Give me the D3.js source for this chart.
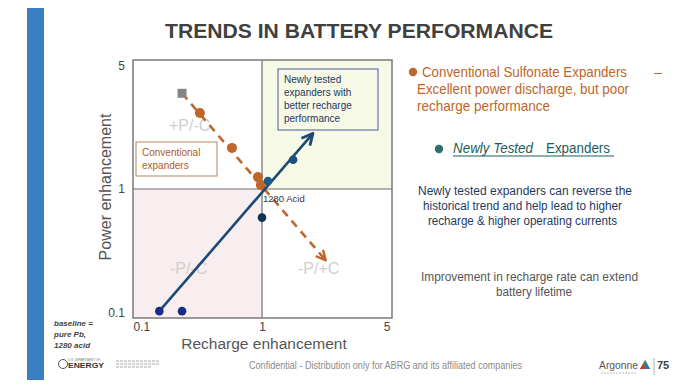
<!DOCTYPE html>
<html>
<head>
<meta charset="utf-8">
<script src="https://cdn.jsdelivr.net/npm/d3@7.9.0/dist/d3.min.js"></script>
<style>
  html, body { margin: 0; padding: 0; background: #fff; }
  svg { display: block; font-family: "Liberation Sans", Arial, sans-serif; }
</style>
</head>
<body>
<svg id="slide" width="696" height="385"></svg>
<script>
// axis ticks
const xTicks = [0.1, 1, 5];
const yTicks = [0.1, 1, 5];

// conventional sulfonate expanders (recharge, power)
const conventional = [
  { x: 0.33, y: 2.58 },
  { x: 0.585, y: 1.67 },
  { x: 0.93, y: 1.16 },
  { x: 0.98, y: 1.05 },
];
// starting reference point (grey square)
const startPoint = [{ x: 0.24, y: 3.3 }];
// newly tested expanders
const newlyTested = [
  { x: 0.16, y: 0.113, c: '#172b8a' },
  { x: 0.24, y: 0.113, c: '#172b8a' },
  { x: 1.0, y: 0.6, c: '#12304f' },
  { x: 1.077, y: 1.105, c: '#1d5a86' },
  { x: 1.47, y: 1.44, c: '#1d4f7a' },
];
// trend arrows
const conventionalTrend = [{ x: 0.24, y: 3.3 }, { x: 2.2, y: 0.28 }];
const newTrend = [{ x: 0.16, y: 0.113 }, { x: 1.88, y: 2.0 }];

const svg = d3.select('#slide');
const orange = '#c0662a';
const navy = '#1b4a74';

// piecewise log scales: each half of the axis is its own range
const x = d3.scaleLog().domain([0.1, 1, 5]).range([133, 262, 392]);
const y = d3.scaleLog().domain([0.1, 1, 5]).range([318, 189, 60]);

// blue bar on the left
svg.append('rect').attr('x', 27).attr('y', 8).attr('width', 17).attr('height', 372).attr('fill', '#3a7fc4');

svg.append('text')
  .attr('x', 165).attr('y', 38)
  .attr('textLength', 388).attr('lengthAdjust', 'spacingAndGlyphs')
  .attr('font-size', 21).attr('font-weight', 'bold').attr('fill', '#404040')
  .text('TRENDS IN BATTERY PERFORMANCE');

// quadrants
const plot = svg.append('g');
plot.append('rect')
  .attr('x', x(1)).attr('y', y(5))
  .attr('width', x(5) - x(1)).attr('height', y(1) - y(5))
  .attr('fill', '#f5f9e5');
plot.append('rect')
  .attr('x', x(0.1)).attr('y', y(1))
  .attr('width', x(1) - x(0.1)).attr('height', y(0.1) - y(1))
  .attr('fill', '#f9eeef');

// quadrant names
const quadLabels = [
  { t: '+P/-C', x: 169, y: 131 },
  { t: '-P/-C', x: 170, y: 274 },
  { t: '-P/+C', x: 298, y: 274 },
];
plot.selectAll('text.quad').data(quadLabels).join('text')
  .attr('class', 'quad')
  .attr('x', (d) => d.x).attr('y', (d) => d.y)
  .attr('font-size', 16).attr('fill', '#cfcfcf')
  .text((d) => d.t);

// divider lines
plot.append('line').attr('x1', x(1)).attr('x2', x(1)).attr('y1', y(5)).attr('y2', y(0.1))
  .attr('stroke', '#6e6e6e').attr('stroke-width', 1.2);
plot.append('line').attr('x1', x(0.1)).attr('x2', x(5)).attr('y1', y(1)).attr('y2', y(1))
  .attr('stroke', '#6e6e6e').attr('stroke-width', 1.2);
plot.append('rect')
  .attr('x', x(0.1)).attr('y', y(5))
  .attr('width', x(5) - x(0.1)).attr('height', y(0.1) - y(5))
  .attr('fill', 'none').attr('stroke', '#7a7a7a').attr('stroke-width', 1.5);

// axes (labels only)
const xAxis = svg.append('g').attr('transform', `translate(0,${y(0.1) + 1})`)
  .call(d3.axisBottom(x).tickValues(xTicks).tickSize(0).tickFormat(d3.format('')));
xAxis.select('.domain').remove();
xAxis.selectAll('text')
  .attr('font-size', 12).attr('fill', '#444').attr('font-family', null)
  .attr('text-anchor', (d, i) => (i === 0 ? 'start' : i === xTicks.length - 1 ? 'end' : 'middle'))
  .attr('dx', (d, i) => (i === xTicks.length - 1 ? -2 : 0));

const yAxis = svg.append('g').attr('transform', `translate(${x(0.1) - 5},0)`)
  .call(d3.axisLeft(y).tickValues(yTicks).tickSize(0).tickFormat(d3.format('')));
yAxis.select('.domain').remove();
yAxis.selectAll('text')
  .attr('font-size', 12).attr('fill', '#444').attr('font-family', null)
  .attr('dy', (d, i) => (i === 0 ? '-0.1em' : i === yTicks.length - 1 ? '0.8em' : '0.32em'));

svg.append('text')
  .attr('x', 264).attr('y', 349).attr('text-anchor', 'middle')
  .attr('font-size', 15.5).attr('fill', '#555')
  .text('Recharge enhancement');
svg.append('text')
  .attr('transform', 'translate(111,187) rotate(-90)').attr('text-anchor', 'middle')
  .attr('font-size', 16).attr('fill', '#555')
  .text('Power enhancement');

// annotation boxes
const convBox = svg.append('g');
convBox.append('rect').attr('x', 136).attr('y', 142).attr('width', 81).attr('height', 34)
  .attr('fill', '#fff').attr('stroke', '#b9845c').attr('stroke-width', 1);
['Conventional', 'expanders'].forEach((t, i) => {
  convBox.append('text').attr('x', 142).attr('y', 156 + i * 13)
    .attr('font-size', 10).attr('fill', '#b05a1e').text(t);
});

const newBox = svg.append('g');
newBox.append('rect').attr('x', 278).attr('y', 69).attr('width', 100).attr('height', 61)
  .attr('fill', 'none').attr('stroke', '#4c5a9c').attr('stroke-width', 1);
['Newly tested', 'expanders with', 'better recharge', 'performance'].forEach((t, i) => {
  newBox.append('text').attr('x', 284).attr('y', 83 + i * 13)
    .attr('font-size', 10).attr('fill', '#1f3864').text(t);
});

// arrow markers
const defs = svg.append('defs');
[['arrowOrange', orange, 12], ['arrowNavy', navy, 14]].forEach(([id, col, size]) => {
  defs.append('marker')
    .attr('id', id).attr('viewBox', '0 0 10 10')
    .attr('refX', 9).attr('refY', 5)
    .attr('markerWidth', size).attr('markerHeight', size)
    .attr('markerUnits', 'userSpaceOnUse').attr('orient', 'auto')
    .append('path').attr('d', 'M1,1 L9,5 L1,9')
    .attr('fill', 'none').attr('stroke', col).attr('stroke-width', 2)
    .attr('stroke-dasharray', 'none');
});

const line = d3.line().x((d) => x(d.x)).y((d) => y(d.y));

// conventional trend
svg.append('path').datum(conventionalTrend)
  .attr('d', line).attr('fill', 'none')
  .attr('stroke', orange).attr('stroke-width', 2.6).attr('stroke-dasharray', '8,6')
  .attr('marker-end', 'url(#arrowOrange)');

svg.selectAll('rect.start').data(startPoint).join('rect')
  .attr('class', 'start')
  .attr('x', (d) => x(d.x) - 4.5).attr('y', (d) => y(d.y) - 4.5)
  .attr('width', 9).attr('height', 9).attr('fill', '#858585');

svg.selectAll('circle.conv').data(conventional).join('circle')
  .attr('class', 'conv')
  .attr('cx', (d) => x(d.x)).attr('cy', (d) => y(d.y))
  .attr('r', 5).attr('fill', orange);

// newly tested trend
svg.append('path').datum(newTrend)
  .attr('d', line).attr('fill', 'none')
  .attr('stroke', navy).attr('stroke-width', 2.6)
  .attr('marker-end', 'url(#arrowNavy)');

svg.selectAll('circle.newt').data(newlyTested).join('circle')
  .attr('class', 'newt')
  .attr('cx', (d) => x(d.x)).attr('cy', (d) => y(d.y))
  .attr('r', 4.3).attr('fill', (d) => d.c);

svg.append('text').attr('x', 263).attr('y', 202)
  .attr('font-size', 9.5).attr('fill', '#333').text('1280 Acid');

// baseline note
['baseline =', 'pure  Pb,', '1280 acid'].forEach((t, i) => {
  svg.append('text').attr('x', 54).attr('y', 326 + i * 11)
    .attr('font-size', 8).attr('font-style', 'italic').attr('font-weight', 'bold')
    .attr('fill', '#444').text(t);
});

// right-hand text
const right = svg.append('g');
right.append('circle').attr('cx', 413).attr('cy', 72).attr('r', 4.2).attr('fill', orange);
const rightLines = [
  { t: 'Conventional Sulfonate Expanders', x: 422, y: 77, w: 205, c: '#c0662a', s: 14.5 },
  { t: 'Excellent power discharge, but poor', x: 417, y: 94, w: 212, c: '#c0662a', s: 14.5 },
  { t: 'recharge performance', x: 417, y: 111, w: 133, c: '#c0662a', s: 14.5 },
  { t: 'Newly tested expanders can reverse the', x: 418, y: 195, w: 214, c: '#1f3a60', s: 12.5 },
  { t: 'historical trend and help lead to higher', x: 423, y: 210, w: 199, c: '#1f3a60', s: 12.5 },
  { t: 'recharge & higher operating currents', x: 428, y: 225, w: 189, c: '#1f3a60', s: 12.5 },
  { t: 'Improvement in recharge rate can extend', x: 421, y: 281, w: 217, c: '#555', s: 12 },
  { t: 'battery lifetime', x: 496, y: 296, w: 76, c: '#555', s: 12 },
];
right.selectAll('text.rl').data(rightLines).join('text')
  .attr('class', 'rl')
  .attr('x', (d) => d.x).attr('y', (d) => d.y)
  .attr('textLength', (d) => d.w).attr('lengthAdjust', 'spacingAndGlyphs')
  .attr('font-size', (d) => d.s).attr('fill', (d) => d.c)
  .text((d) => d.t);
right.append('text').attr('x', 654).attr('y', 77).attr('font-size', 14.5).attr('fill', orange).text('–');

right.append('circle').attr('cx', 439).attr('cy', 149).attr('r', 4.2).attr('fill', '#2a7070');
right.append('text').attr('x', 453).attr('y', 153)
  .attr('textLength', 80).attr('lengthAdjust', 'spacingAndGlyphs')
  .attr('font-size', 14).attr('font-style', 'italic').attr('fill', '#1f5c5c').text('Newly Tested');
right.append('text').attr('x', 546).attr('y', 153)
  .attr('textLength', 64).attr('lengthAdjust', 'spacingAndGlyphs')
  .attr('font-size', 14).attr('fill', '#1f5c5c').text('Expanders');
right.append('line').attr('x1', 453).attr('x2', 614).attr('y1', 156).attr('y2', 156)
  .attr('stroke', '#1f5c5c').attr('stroke-width', 1);

// footer
svg.append('text').attr('x', 249).attr('y', 369)
  .attr('textLength', 273).attr('lengthAdjust', 'spacingAndGlyphs')
  .attr('font-size', 10).attr('fill', '#8a8a8a')
  .text('Confidential  - Distribution only for ABRG and its affiliated companies');

const doe = svg.append('g');
doe.append('circle').attr('cx', 63).attr('cy', 364).attr('r', 4.5)
  .attr('fill', 'none').attr('stroke', '#555').attr('stroke-width', 1);
doe.append('text').attr('x', 68).attr('y', 368).attr('font-size', 8).attr('font-weight', 'bold')
  .attr('fill', '#333').attr('textLength', 36).attr('lengthAdjust', 'spacingAndGlyphs').text('ENERGY');
doe.append('text').attr('x', 68).attr('y', 361).attr('font-size', 3).attr('fill', '#777').text('U.S. DEPARTMENT OF');
[361, 364, 367].forEach((yy, i) => {
  doe.append('line').attr('x1', 116).attr('x2', i === 2 ? 152 : 160).attr('y1', yy).attr('y2', yy)
    .attr('stroke', '#aaa').attr('stroke-width', 1.2).attr('stroke-dasharray', '3,1');
});

const anl = svg.append('g');
anl.append('text').attr('x', 599).attr('y', 369).attr('font-size', 10)
  .attr('textLength', 39).attr('lengthAdjust', 'spacingAndGlyphs').attr('fill', '#555').text('Argonne');
anl.append('path').attr('d', 'M640,369 L645,360 L650,369 Z').attr('fill', '#3a8f3a');
anl.append('path').attr('d', 'M645,360 L650,369 L646,369 Z').attr('fill', '#2e6fc0');
anl.append('path').attr('d', 'M640,369 L643,364 L646,369 Z').attr('fill', '#d6332a');
anl.append('line').attr('x1', 654).attr('x2', 654).attr('y1', 358).attr('y2', 375)
  .attr('stroke', '#999').attr('stroke-width', 0.8);
anl.append('text').attr('x', 657).attr('y', 369).attr('font-size', 11).attr('font-weight', 'bold')
  .attr('fill', '#444').text('75');
anl.append('line').attr('x1', 601).attr('x2', 636).attr('y1', 373).attr('y2', 373)
  .attr('stroke', '#bbb').attr('stroke-width', 1).attr('stroke-dasharray', '2,1');
</script>
</body>
</html>
